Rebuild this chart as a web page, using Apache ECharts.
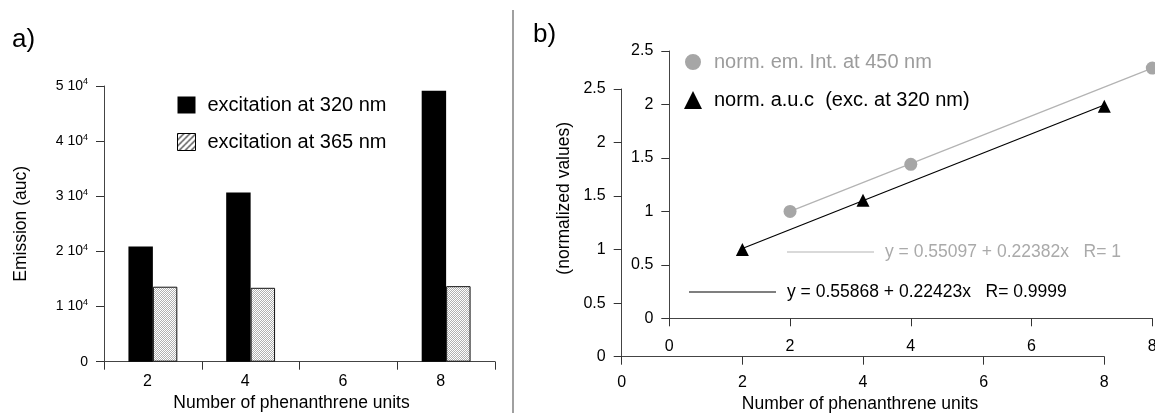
<!DOCTYPE html>
<html><head><meta charset="utf-8">
<script src="https://cdn.jsdelivr.net/npm/echarts@6/dist/echarts.min.js"></script>
<style>html,body{margin:0;padding:0;background:#fff}#c{width:1155px;height:413px}</style>
</head><body><div id="c"></div>
<script>
// ---- Panel a) data ----
const categories = ['2', '4', '6', '8'];
const excitation320 = [20900, 30700, null, 49150];
const excitation365 = [13600, 13400, null, 13700];
const emissionTickStep = 10000;

// ---- Panel b) data ----
const phenUnits = [2, 4, 8];
const normEmInt450 = [1.00, 1.44, 2.34];
const normAuc320 = [1.00, 1.46, 2.34];
const fitX = [2, 8];
const fitEmY = [1.00, 2.34];
const fitAucY = [1.01, 2.35];
const fitEmText = 'y = 0.55097 + 0.22382x   R= 1';
const fitAucText = 'y = 0.55868 + 0.22423x   R= 0.9999';

const FONT = 'Liberation Sans, Arial, Helvetica, sans-serif';

function makePattern(size, stripe, color) {
  const c = document.createElement('canvas');
  c.width = size; c.height = size;
  const g = c.getContext('2d');
  g.fillStyle = '#fff'; g.fillRect(0, 0, size, size);
  g.fillStyle = color;
  for (let i = 0; i < size; i++) {
    for (let k = 0; k < stripe; k++) {
      const x = (size - 1 - i + k) % size;
      g.fillRect(x, i, 1, 1);
    }
  }
  return c;
}
const finePattern = { image: makePattern(2, 1, '#b0b0b0'), repeat: 'repeat' };
const coarsePattern = { image: makePattern(6, 2, '#555'), repeat: 'repeat' };

const axisLineStyle = { color: '#444', width: 1 };
const tickStyle = { show: true, length: 8, lineStyle: { color: '#333' } };

const chart = echarts.init(document.getElementById('c'), null, { renderer: 'canvas' });

function valAxisX(gridIndex, extra) {
  return Object.assign({
    type: 'value', gridIndex: gridIndex, min: 0, max: 8, interval: 2,
    axisLine: { show: true, onZero: false, lineStyle: axisLineStyle },
    axisTick: tickStyle, splitLine: { show: false },
    axisLabel: { fontSize: 16, color: '#000', fontFamily: FONT }
  }, extra || {});
}
function valAxisY(gridIndex, extra) {
  return Object.assign({
    type: 'value', gridIndex: gridIndex, min: 0, max: 2.5, interval: 0.5,
    axisLine: { show: true, onZero: false, lineStyle: axisLineStyle },
    axisTick: tickStyle, splitLine: { show: false },
    axisLabel: { fontSize: 16, color: '#000', fontFamily: FONT, margin: 16 }
  }, extra || {});
}

const option = {
  animation: false,
  backgroundColor: '#fff',
  textStyle: { fontFamily: FONT },
  grid: [
    { left: 104, top: 86, width: 391, height: 275.7, outerBoundsMode: 'none', containLabel: false },
    { left: 621.7, top: 89, width: 482.6, height: 267.7, outerBoundsMode: 'none', containLabel: false },
    { left: 669.3, top: 51, width: 483, height: 267.3, outerBoundsMode: 'none', containLabel: false }
  ],
  xAxis: [
    {
      type: 'category', gridIndex: 0, data: categories,
      axisLine: { show: true, lineStyle: axisLineStyle },
      axisTick: tickStyle,
      axisLabel: { fontSize: 16, color: '#000', margin: 12, padding: [0, 11, 0, 0] },
      name: 'Number of phenanthrene units', nameLocation: 'middle', nameGap: 32,
      nameTextStyle: { fontSize: 17.5, color: '#000', padding: [0, 16, 0, 0] }
    },
    valAxisX(1, {
      axisLabel: { fontSize: 16, color: '#000', margin: 18 },
      name: 'Number of phenanthrene units', nameLocation: 'middle', nameGap: 38,
      nameTextStyle: { fontSize: 17.5, color: '#000', padding: [0, 6, 0, 0] }
    }),
    valAxisX(2, { axisLabel: { fontSize: 16, color: '#000', margin: 20 } })
  ],
  yAxis: [
    {
      type: 'value', gridIndex: 0, min: 0, max: 50000, interval: emissionTickStep,
      axisLine: { show: true, lineStyle: axisLineStyle },
      axisTick: tickStyle, splitLine: { show: false },
      axisLabel: {
        margin: 16,
        formatter: function (v) {
          return v === 0 ? '{a|0}' : '{a|' + (v / emissionTickStep) + ' 10}{s|4}';
        },
        rich: {
          a: { fontSize: 14, color: '#000', fontFamily: FONT },
          s: { fontSize: 9, color: '#000', fontFamily: FONT, padding: [0, 0, 8, 0] }
        }
      },
      name: 'Emission (auc)', nameLocation: 'middle', nameGap: 74,
      nameTextStyle: { fontSize: 17.5, color: '#000' }
    },
    valAxisY(1),
    valAxisY(2)
  ],
  legend: [
    {
      orient: 'vertical', left: 177, top: 95, padding: 0,
      itemWidth: 18, itemHeight: 17, itemGap: 17,
      textStyle: { fontSize: 20, color: '#000', padding: [0, 0, 0, 7] },
      data: [
        { name: 'excitation at 320 nm', icon: 'rect' },
        { name: 'excitation at 365 nm', icon: 'rect',
          itemStyle: { color: coarsePattern, borderColor: '#000', borderWidth: 1 } }
      ]
    },
    {
      orient: 'vertical', left: 683, top: 52, padding: 0,
      itemWidth: 18, itemHeight: 18, itemGap: 18,
      textStyle: { fontSize: 20, color: '#000', padding: [0, 0, 0, 7] },
      data: [
        { name: 'norm. em. Int. at 450 nm', icon: 'circle',
          itemStyle: { borderColor: '#fff', borderWidth: 2 },
          textStyle: { color: '#9c9c9c' } },
        { name: 'norm. a.u.c  (exc. at 320 nm)', icon: 'triangle' }
      ]
    }
  ],
  series: [
    {
      name: 'excitation at 320 nm', type: 'bar', xAxisIndex: 0, yAxisIndex: 0,
      data: excitation320, barGap: '0%', barCategoryGap: '50%',
      itemStyle: { color: '#000' }
    },
    {
      name: 'excitation at 365 nm', type: 'bar', xAxisIndex: 0, yAxisIndex: 0,
      data: excitation365, barGap: '0%', barCategoryGap: '50%',
      itemStyle: { color: finePattern, borderColor: '#111', borderWidth: 1 }
    },
    {
      name: 'fitEm', type: 'line', xAxisIndex: 2, yAxisIndex: 2,
      data: fitX.map((x, i) => [x, fitEmY[i]]), symbol: 'none',
      lineStyle: { color: '#b3b3b3', width: 1.2 }, silent: true, z: 2
    },
    {
      name: 'fitAuc', type: 'line', xAxisIndex: 1, yAxisIndex: 1,
      data: fitX.map((x, i) => [x, fitAucY[i]]), symbol: 'none',
      lineStyle: { color: '#000', width: 1.2 }, silent: true, z: 2
    },
    {
      name: 'norm. em. Int. at 450 nm', type: 'scatter', xAxisIndex: 2, yAxisIndex: 2,
      data: phenUnits.map((x, i) => [x, normEmInt450[i]]),
      symbol: 'circle', symbolSize: 13, itemStyle: { color: '#a6a6a6', opacity: 1 }, z: 3
    },
    {
      name: 'norm. a.u.c  (exc. at 320 nm)', type: 'scatter', xAxisIndex: 1, yAxisIndex: 1,
      data: phenUnits.map((x, i) => [x, normAuc320[i]]),
      symbol: 'triangle', symbolSize: 13, itemStyle: { color: '#000', opacity: 1 }, z: 3
    }
  ],
  graphic: [
    { type: 'text', left: 12, top: 27, style: { text: 'a)', fontSize: 26, fill: '#000', fontFamily: FONT } },
    { type: 'text', left: 533, top: 22, style: { text: 'b)', fontSize: 26, fill: '#000', fontFamily: FONT } },
    { type: 'line', shape: { x1: 513, y1: 10, x2: 513, y2: 413 }, style: { stroke: '#808080', lineWidth: 1.5 } },
    { type: 'line', shape: { x1: 787, y1: 252, x2: 874, y2: 252 }, style: { stroke: '#b3b3b3', lineWidth: 1.2 } },
    { type: 'text', x: 885, y: 252, style: { text: fitEmText, fontSize: 17.5, fill: '#aaaaaa', fontFamily: FONT, textVerticalAlign: 'middle', verticalAlign: 'middle' } },
    { type: 'line', shape: { x1: 689, y1: 292, x2: 776, y2: 292 }, style: { stroke: '#000', lineWidth: 1.2 } },
    { type: 'text', x: 787, y: 292, style: { text: fitAucText, fontSize: 17.5, fill: '#000', fontFamily: FONT, textVerticalAlign: 'middle', verticalAlign: 'middle' } },
    { type: 'text', x: 564.5, y: 198.3, rotation: Math.PI / 2,
      style: { text: '(normalized values)', fontSize: 17.5, fill: '#000', fontFamily: FONT,
               align: 'center', verticalAlign: 'middle', textAlign: 'center', textVerticalAlign: 'middle' } }
  ]
};
chart.setOption(option);
</script>
</body></html>
